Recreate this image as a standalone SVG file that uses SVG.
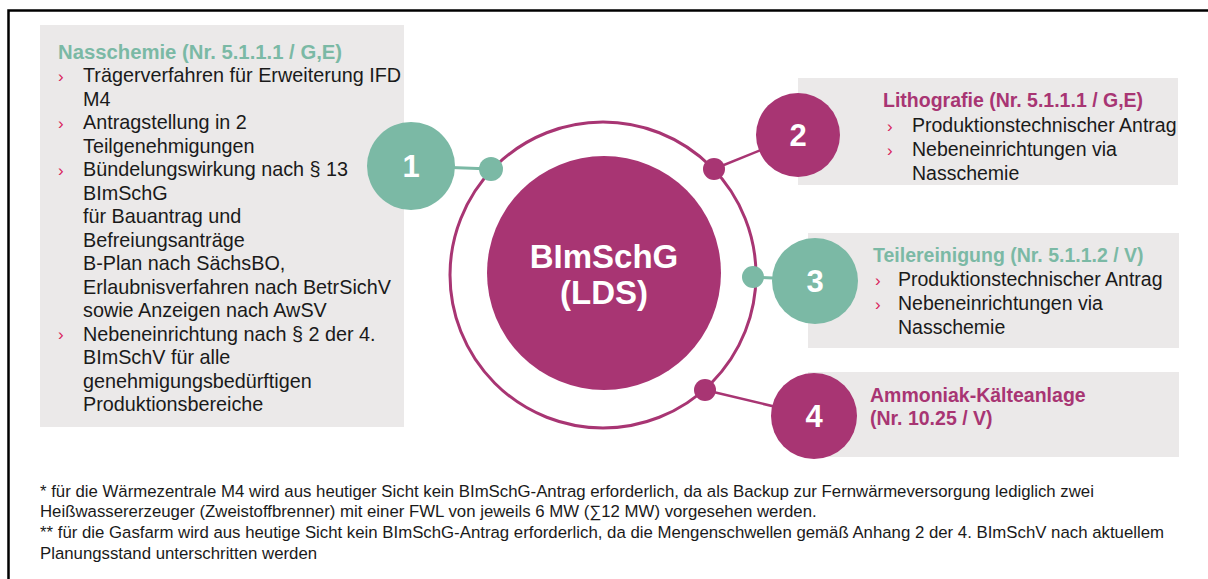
<svg xmlns="http://www.w3.org/2000/svg" width="1208" height="579" viewBox="0 0 1208 579">
<style>
.box{fill:#ebe9e9}
.t{font-family:"Liberation Sans",Arial,sans-serif;font-size:19.5px;fill:#1a1a1a}
.h{font-family:"Liberation Sans",Arial,sans-serif;font-size:19.5px;font-weight:bold}
.l{font-size:19.8px}
.lh{font-size:20.3px}
.teal{fill:#7bb9a5}
.mag{fill:#a83573}
.b{font-family:"Liberation Sans",Arial,sans-serif;font-size:17px;fill:#d9245c}
.num{font-family:"Liberation Sans",Arial,sans-serif;font-size:31px;font-weight:bold;fill:#fff;text-anchor:middle}
.big{font-size:33px}
.fn{font-family:"Liberation Sans",Arial,sans-serif;font-size:16.8px;fill:#1a1a1a}
</style>
<rect width="1208" height="579" fill="#fff"/>
<path d="M8.5 579 V10.5 H1208" fill="none" stroke="#000" stroke-width="2.5"/>

<g id="box1">
<rect class="box" x="40" y="25" width="364" height="402"/>
<text class="h lh teal" x="58" y="59">Nasschemie (Nr. 5.1.1.1 / G,E)</text>
<text class="b" x="58" y="82">›</text>
<text class="b" x="58" y="129">›</text>
<text class="b" x="58" y="176">›</text>
<text class="b" x="58" y="340">›</text>
<text class="t l" x="83" y="82">Trägerverfahren für Erweiterung IFD</text>
<text class="t l" x="83" y="105.5">M4</text>
<text class="t l" x="83" y="129">Antragstellung in 2</text>
<text class="t l" x="83" y="152.5">Teilgenehmigungen</text>
<text class="t l" x="83" y="176">Bündelungswirkung nach § 13</text>
<text class="t l" x="83" y="199.5">BImSchG</text>
<text class="t l" x="83" y="223">für Bauantrag und</text>
<text class="t l" x="83" y="246.5">Befreiungsanträge</text>
<text class="t l" x="83" y="270">B-Plan nach SächsBO,</text>
<text class="t l" x="83" y="293.5">Erlaubnisverfahren nach BetrSichV</text>
<text class="t l" x="83" y="317">sowie Anzeigen nach AwSV</text>
<text class="t l" x="83" y="340.5">Nebeneinrichtung nach § 2 der 4.</text>
<text class="t l" x="83" y="364">BImSchV für alle</text>
<text class="t l" x="83" y="387.5">genehmigungsbedürftigen</text>
<text class="t l" x="83" y="411">Produktionsbereiche</text>
</g>

<g id="box2">
<rect class="box" x="798" y="78" width="380" height="107"/>
<text class="h mag" x="883" y="107">Lithografie (Nr. 5.1.1.1 / G,E)</text>
<text class="b" x="887" y="132">›</text>
<text class="b" x="887" y="156">›</text>
<text class="t" x="912" y="132">Produktionstechnischer Antrag</text>
<text class="t" x="912" y="156">Nebeneinrichtungen via</text>
<text class="t" x="912" y="180">Nasschemie</text>
</g>

<g id="box3">
<rect class="box" x="808" y="233" width="371" height="115"/>
<text class="h teal" x="873" y="262">Teilereinigung (Nr. 5.1.1.2 / V)</text>
<text class="b" x="875" y="286">›</text>
<text class="b" x="875" y="310">›</text>
<text class="t" x="898" y="286">Produktionstechnischer Antrag</text>
<text class="t" x="898" y="310">Nebeneinrichtungen via</text>
<text class="t" x="898" y="334">Nasschemie</text>
</g>

<g id="box4">
<rect class="box" x="808" y="372" width="371" height="85"/>
<text class="h mag" x="870" y="402">Ammoniak-Kälteanlage</text>
<text class="h mag" x="870" y="425">(Nr. 10.25 / V)</text>
</g>

<g id="connectors">
<line x1="411" y1="166" x2="491" y2="169" stroke="#7bb9a5" stroke-width="3"/>
<line x1="714" y1="169" x2="798" y2="135" stroke="#a83573" stroke-width="2.5"/>
<line x1="753" y1="277" x2="815" y2="280" stroke="#7bb9a5" stroke-width="3"/>
<line x1="705" y1="390" x2="814" y2="416" stroke="#a83573" stroke-width="2.5"/>
</g>

<g id="center">
<circle cx="603" cy="275" r="153" fill="none" stroke="#a83573" stroke-width="3"/>
<circle cx="604" cy="273" r="117" fill="#a83573"/>
<text class="num big" x="604" y="268">BImSchG</text>
<text class="num big" x="604" y="304">(LDS)</text>
</g>

<g id="node1">
<circle cx="491" cy="169" r="12" fill="#7bb9a5"/>
<circle cx="411" cy="166" r="44" fill="#7bb9a5"/>
<text class="num" x="411" y="177">1</text>
</g>
<g id="node2">
<circle cx="714" cy="169" r="11" fill="#a83573"/>
<circle cx="798" cy="135" r="42" fill="#a83573"/>
<text class="num" x="798" y="146">2</text>
</g>
<g id="node3">
<circle cx="753" cy="277" r="11" fill="#7bb9a5"/>
<circle cx="815" cy="281" r="43" fill="#7bb9a5"/>
<text class="num" x="815" y="292">3</text>
</g>
<g id="node4">
<circle cx="705" cy="390" r="11" fill="#a83573"/>
<circle cx="814" cy="416" r="43" fill="#a83573"/>
<text class="num" x="814" y="427">4</text>
</g>

<g id="footnotes">
<text class="fn" x="40" y="497">* für die Wärmezentrale M4 wird aus heutiger Sicht kein BImSchG-Antrag erforderlich, da als Backup zur Fernwärmeversorgung lediglich zwei</text>
<text class="fn" x="40" y="517">Heißwassererzeuger (Zweistoffbrenner) mit einer FWL von jeweils 6 MW (∑12 MW) vorgesehen werden.</text>
<text class="fn" x="40" y="538">** für die Gasfarm wird aus heutige Sicht kein BImSchG-Antrag erforderlich, da die Mengenschwellen gemäß Anhang 2 der 4. BImSchV nach aktuellem</text>
<text class="fn" x="40" y="559">Planungsstand unterschritten werden</text>
</g>
</svg>
